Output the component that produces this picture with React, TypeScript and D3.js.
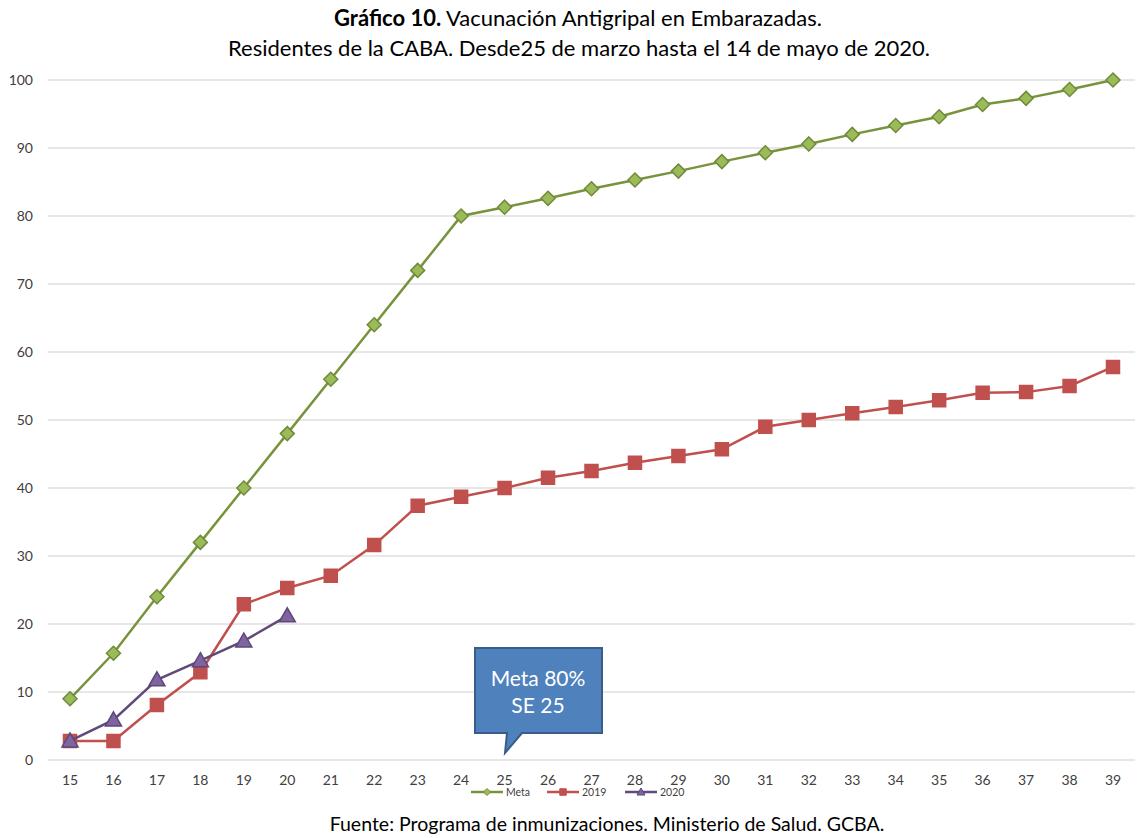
import React from "react";
import * as d3 from "d3";

const weeks = [15,16,17,18,19,20,21,22,23,24,25,26,27,28,29,30,31,32,33,34,35,36,37,38,39];
const meta = [9,15.7,24,32,40,48,56,64,72,80,81.3,82.6,84,85.3,86.6,88,89.3,90.6,92,93.3,94.6,96.4,97.3,98.6,100];
const s2019 = [2.8,2.8,8.1,12.9,22.9,25.3,27.1,31.6,37.4,38.7,40,41.5,42.5,43.7,44.7,45.7,49,50,51,51.9,52.9,54,54.1,55,57.8];
const s2020 = [2.8,5.9,11.8,14.6,17.5,21.2];
const yTicks = [0,10,20,30,40,50,60,70,80,90,100];

const W = 1140, H = 838;
const FONT = "Lato, 'Open Sans', sans-serif";

export default function App() {
  const x = d3.scaleLinear().domain([15, 39]).range([70, 1113]);
  const y = d3.scaleLinear().domain([0, 100]).range([760, 80]);
  const line = d3.line<[number, number]>().x(d => x(d[0])).y(d => y(d[1]));
  const diamond = "M0,-7L7,0L0,7L-7,0Z";
  const square = "M-6.5,-6.5L6.5,-6.5L6.5,6.5L-6.5,6.5Z";
  const tri = "M0,-8L8,6L-8,6Z";

  const series = [
    { name: "Meta", vals: meta, line: "#77933c", fill: "#9bbb59", stroke: "#6f8a3a", path: diamond },
    { name: "2019", vals: s2019, line: "#c0504d", fill: "#c0504d", stroke: "#c0504d", path: square },
    { name: "2020", vals: s2020, line: "#604a7b", fill: "#8064a2", stroke: "#5c4776", path: tri },
  ];

  const legendX = [471, 547, 625];

  return (
    <svg width={W} height={H} style={{ position: "absolute", left: 0, top: 0 }} fontFamily={FONT}>
      <rect width={W} height={H} fill="#fff" />
      <text x={578} y={26} textAnchor="middle" fontSize={22} fill="#000">
        <tspan fontWeight="bold">Gráfico 10.</tspan> Vacunación Antigripal en Embarazadas.
      </text>
      <text x={579} y={56} textAnchor="middle" fontSize={22} fill="#000">
        Residentes de la CABA. Desde25 de marzo hasta el 14 de mayo de 2020.
      </text>
      {yTicks.map(t => (
        <g key={t}>
          <line x1={48} x2={1135} y1={y(t)} y2={y(t)} stroke="#d0d0d0" strokeWidth={1.2} />
          <text x={33} y={y(t) + 5} textAnchor="end" fontSize={14} fill="#404040">{t}</text>
        </g>
      ))}
      {weeks.map(w => (
        <text key={w} x={x(w)} y={785} textAnchor="middle" fontSize={14} fill="#404040">{w}</text>
      ))}
      {series.map(s => {
        const pts = s.vals.map((v, i) => [weeks[i], v] as [number, number]);
        return (
          <g key={s.name}>
            <path d={line(pts)!} fill="none" stroke={s.line} strokeWidth={2.5} />
            {pts.map((p, i) => (
              <path key={i} d={s.path} transform={`translate(${x(p[0])},${y(p[1])})`} fill={s.fill} stroke={s.stroke} strokeWidth={1.5} />
            ))}
          </g>
        );
      })}
      {/* Callout */}
      <path d="M475,648 L602,648 L602,733 L522,733 L505,753 L507,733 L475,733 Z" fill="#4f81bd" stroke="#385d8a" strokeWidth={2} />
      <text x={538} y={686} textAnchor="middle" fontSize={21} fill="#fff">Meta 80%</text>
      <text x={538} y={713} textAnchor="middle" fontSize={21} fill="#fff">SE 25</text>
      {/* Legend */}
      {series.map((s, i) => (
        <g key={s.name}>
          <line x1={legendX[i]} x2={legendX[i] + 32} y1={792} y2={792} stroke={s.line} strokeWidth={2.5} />
          <path d={s.path} transform={`translate(${legendX[i] + 16},792) scale(0.5)`} fill={s.fill} stroke={s.stroke} strokeWidth={2} />
          <text x={legendX[i] + 35} y={796} fontSize={10.5} fill="#404040">{s.name}</text>
        </g>
      ))}
      <text x={607} y={831} textAnchor="middle" fontSize={19.5} fill="#000">
        Fuente: Programa de inmunizaciones. Ministerio de Salud. GCBA.
      </text>
    </svg>
  );
}
